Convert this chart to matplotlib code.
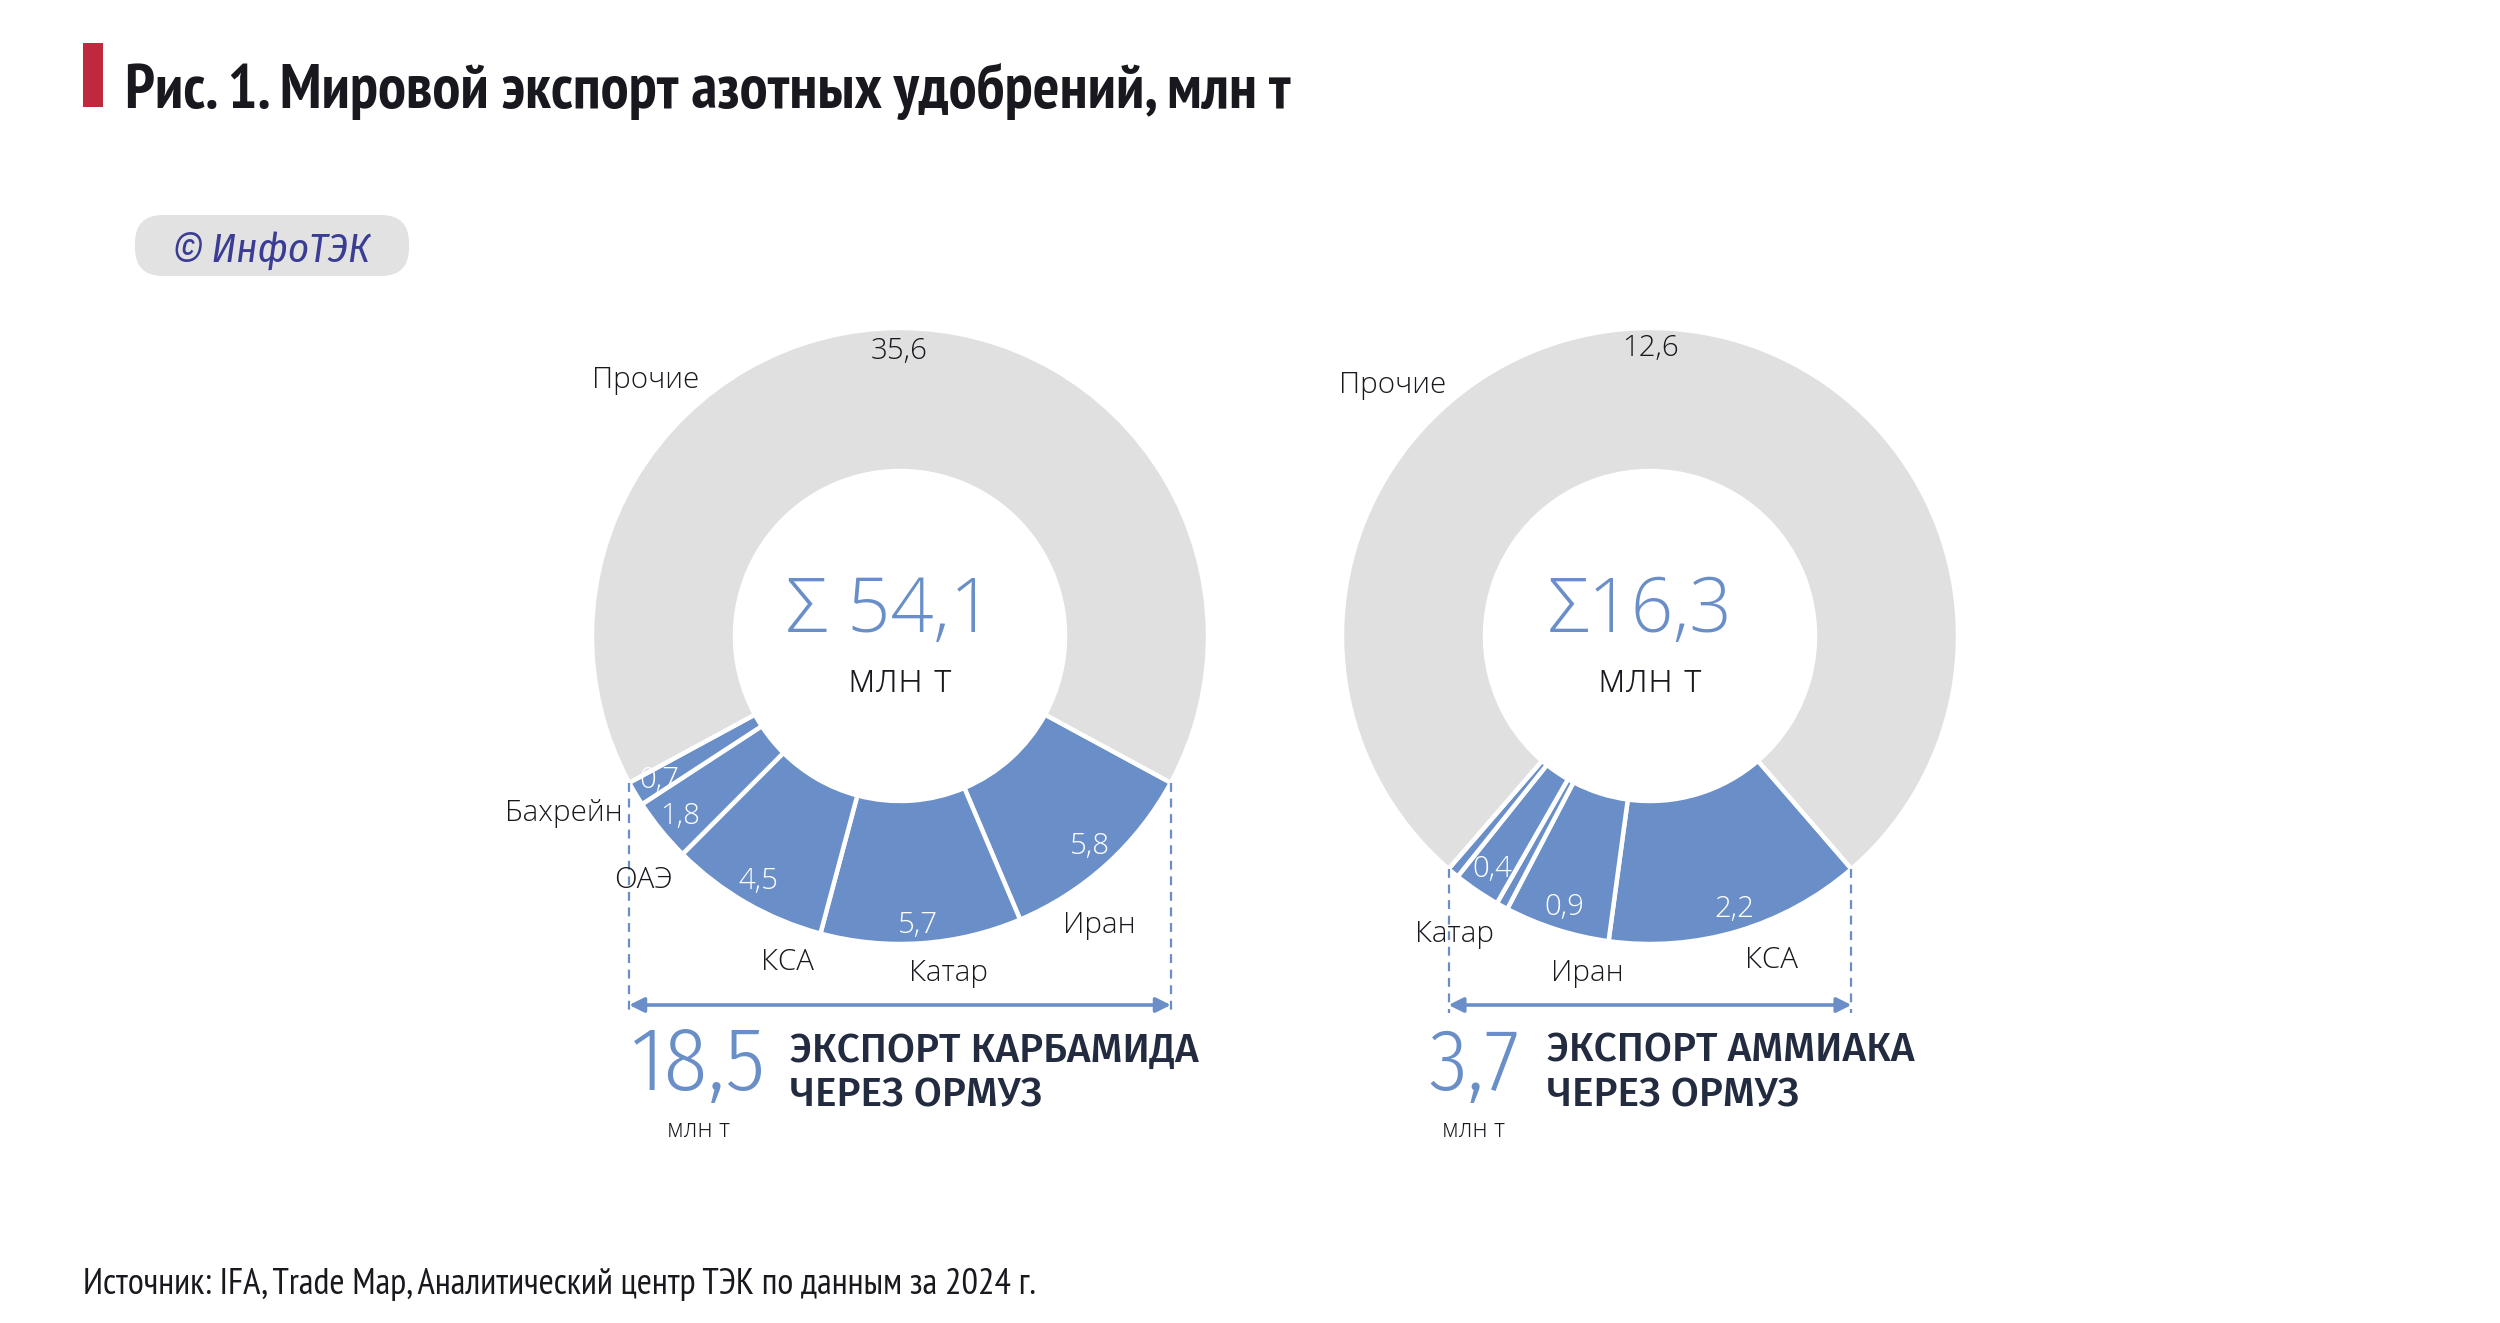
import matplotlib
matplotlib.use('Agg')
import matplotlib.pyplot as plt
from matplotlib.patches import FancyBboxPatch, Rectangle
import numpy as np
import logging
logging.getLogger('matplotlib.font_manager').setLevel(logging.ERROR)

# ---------------- data ----------------
urea_labels = ['Иран', 'Катар', 'КСА', 'ОАЭ', 'Бахрейн', 'Прочие']
urea_values = [5.8, 5.7, 4.5, 1.8, 0.7, 35.6]
urea_value_text = ['5,8', '5,7', '4,5', '1,8', '0,7', '35,6']
urea_total = '54,1'
urea_hormuz = 18.5
urea_hormuz_text = '18,5'

ammonia_labels = ['КСА', 'Иран', '', 'Катар', '', 'Прочие']
ammonia_values = [2.2, 0.9, 0.1, 0.4, 0.1, 12.6]
ammonia_value_text = ['2,2', '0,9', '', '0,4', '', '12,6']
ammonia_total = '16,3'
ammonia_hormuz = 3.7
ammonia_hormuz_text = '3,7'

title = 'Рис. 1. Мировой экспорт азотных удобрений, млн т'
source = 'Источник: IFA, Trade Map, Аналитический центр ТЭК по данным за 2024 г.'

# ---------------- style ----------------
BLUE = '#6a8fc8'
GREY = '#e0e0e0'
DARK = '#18181e'
NAVY = '#222b3f'
RED = '#c0283e'
W, H = 2500, 1323
LIGHT = ['Open Sans', 'DejaVu Sans']
NARROW = ['PT Sans Narrow', 'Fira Sans Condensed', 'IBM Plex Sans Condensed', 'DejaVu Sans']
ITAL = ['IBM Plex Sans Condensed', 'Fira Sans Condensed', 'DejaVu Sans']
NUMC = ['Fira Sans Condensed', 'IBM Plex Sans Condensed', 'PT Sans Narrow', 'DejaVu Sans']
MED = ['Fira Sans', 'Roboto', 'DejaVu Sans']

fig = plt.figure(figsize=(25, 13.23), dpi=100)
ax = fig.add_axes([0, 0, 1, 1])


def T(x, y, s, **kw):
    return ax.text(x, H - y, s, **kw)


renderer = fig.canvas.get_renderer()


def fit(t, target):
    w = t.get_window_extent(renderer).width
    if w > 0:
        t.set_fontsize(t.get_fontsize() * target / w)
    return t


R_OUT, R_IN = 308, 165
CY = 636


def donut(cx, values, label_txt, value_txt, lab_off, val_off, total_txt,
          total_w, big_txt, big_w, head1, head2, head_w, xbig, xhead, lab_fs):
    blue_sum = sum(values[:-1])
    sa = 270 + 360 * blue_sum / sum(values) / 2
    cols = [BLUE] * (len(values) - 1) + [GREY]
    ax.pie(values, center=(cx, H - CY), radius=R_OUT, startangle=sa,
           counterclock=False, colors=cols,
           wedgeprops=dict(width=R_OUT - R_IN, edgecolor='white', linewidth=3.2))
    for name, (dx, dy) in zip(label_txt, lab_off):
        if name:
            T(cx + dx, CY + dy, name, ha='center', va='center', fontsize=lab_fs,
              color=DARK, family=LIGHT, weight=300)
    for i, (v, (dx, dy)) in enumerate(zip(value_txt, val_off)):
        if v:
            c = DARK if i == len(value_txt) - 1 else 'white'
            T(cx + dx, CY + dy, v, ha='center', va='center', fontsize=lab_fs,
              color=c, family=LIGHT, weight=300)
    t = T(cx - 10, CY - 24, total_txt, ha='center', va='center', fontsize=50,
          color=BLUE, family=LIGHT, weight=300)
    fit(t, total_w)
    t = T(cx, CY + 45, 'млн т', ha='center', va='center', fontsize=24,
          color=DARK, family=LIGHT, weight=300)
    fit(t, 104)
    th_r = np.deg2rad(sa)
    th_l = np.deg2rad(sa - 360 * blue_sum / sum(values))
    xl = cx + R_OUT * np.cos(th_l)
    yl = (H - CY) + R_OUT * np.sin(th_l)
    xr = cx + R_OUT * np.cos(th_r)
    yr = (H - CY) + R_OUT * np.sin(th_r)
    ya = H - 1005
    ax.plot([xl, xl], [yl, ya - 8], ls=(0, (4, 3)), color=BLUE, lw=1.6)
    ax.plot([xr, xr], [yr, ya - 8], ls=(0, (4, 3)), color=BLUE, lw=1.6)
    ax.annotate('', xy=(xr, ya), xytext=(xl, ya),
                arrowprops=dict(arrowstyle='<|-|>', color=BLUE, lw=2.6,
                                mutation_scale=22, shrinkA=0, shrinkB=0))
    t = T(xbig, 1066, big_txt, ha='left', va='center', fontsize=60,
          color=BLUE, family=NUMC, weight=300)
    fit(t, big_w)
    t = T(xbig + big_w / 2, 1130, 'млн т', ha='center', va='center', fontsize=12,
          color=DARK, family=LIGHT, weight=300)
    fit(t, 63)
    t1 = T(xhead, 1051, head1, ha='left', va='center', fontsize=28,
           color=NAVY, family=MED, weight=500)
    fit(t1, head_w)
    T(xhead, 1096, head2, ha='left', va='center', fontsize=t1.get_fontsize(),
      color=NAVY, family=MED, weight=500)


probe = T(-500, -500, 'Прочие', fontsize=18, family=LIGHT, weight=300)
fit(probe, 107)
LAB_FS = probe.get_fontsize()
probe.remove()

urea_lab_off = [(199, 289), (49, 337), (-113, 326), (-257, 244), (-336, 177), (-254, -256)]
urea_val_off = [(190, 210), (18, 289), (-142, 245), (-220, 180), (-241, 144), (-1, -285)]
donut(900, urea_values, urea_labels, urea_value_text,
      urea_lab_off, urea_val_off, 'Σ ' + urea_total, 207,
      urea_hormuz_text, 135, 'ЭКСПОРТ КАРБАМИДА', 'ЧЕРЕЗ ОРМУЗ', 409, 631, 790, LAB_FS)

amm_lab_off = [(121, 324), (-63, 337), (0, 0), (-195, 298), (0, 0), (-257, -251)]
amm_val_off = [(84, 273), (-86, 271), (0, 0), (-158, 233), (0, 0), (1, -288)]
donut(1650, ammonia_values, ammonia_labels, ammonia_value_text,
      amm_lab_off, amm_val_off, 'Σ' + ammonia_total, 185,
      ammonia_hormuz_text, 91, 'ЭКСПОРТ АММИАКА', 'ЧЕРЕЗ ОРМУЗ', 368, 1428, 1547, LAB_FS)

ax.add_patch(Rectangle((83, H - 107), 20, 64, color=RED, lw=0))
t = T(125, 91, title, ha='left', va='center', fontsize=36, color=DARK,
      family=NARROW, weight='bold')
fit(t, 1162)

ax.add_patch(FancyBboxPatch((135 + 28, H - 276 + 28), 274 - 56, 61 - 56,
                            boxstyle='round,pad=28', fc='#e2e2e2', ec='none'))
t = T(173, 250, '© ИнфоТЭК', ha='left', va='center', fontsize=26,
      color='#3b3d95', family=ITAL, style='italic')
fit(t, 197)

t = T(83, 1284, source, ha='left', va='center', fontsize=18, color=DARK,
      family=NARROW)
fit(t, 955)

ax.set_xlim(0, W)
ax.set_ylim(0, H)
ax.set_aspect('auto')
ax.axis('off')
fig.savefig('out.png', dpi=100, facecolor='white')
